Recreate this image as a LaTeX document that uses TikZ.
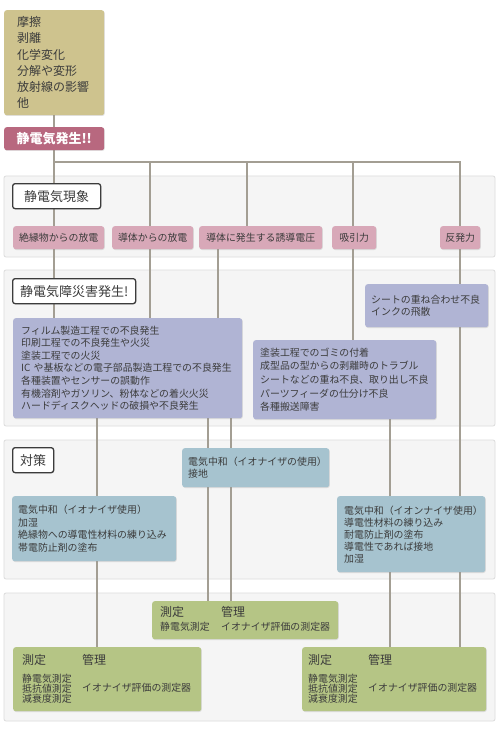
\documentclass[tikz,border=0pt]{standalone}
\usepackage{fontspec}
\setmainfont{Noto Sans CJK JP}
\usetikzlibrary{shadows}
\definecolor{causeTan}{HTML}{CEC38E}
\definecolor{alarmRed}{HTML}{B8687F}
\definecolor{phenPink}{HTML}{D8A8B8}
\definecolor{failBlue}{HTML}{B0B4D4}
\definecolor{cureBlue}{HTML}{A6C3CF}
\definecolor{checkGreen}{HTML}{B5C585}
\definecolor{wireGray}{HTML}{A39E93}
\definecolor{panelGray}{HTML}{F5F5F5}
\definecolor{panelEdge}{HTML}{DCDCDC}
\definecolor{inkGray}{HTML}{3C3C3C}
\pgfdeclarelayer{panel}
\pgfdeclarelayer{wire}
\pgfsetlayers{panel,wire,main}
\newcommand\bodyfont{\fontsize{9.9}{12.6}\selectfont}
\newcommand\checkhead{\fontsize{12}{14}\selectfont}
\newcommand\checklist[1]{\parbox[c]{58pt}{\fontsize{9.9}{10}\selectfont\lineskiplimit=-5pt #1}}

\begin{document}
\begin{tikzpicture}[x=1pt,y=-1pt,
  box/.style={anchor=north west,rounded corners=2.5pt,text=inkGray,inner ysep=0pt,
    drop shadow={shadow xshift=0.6pt,shadow yshift=-0.8pt,opacity=0.22}},
  card/.style={box,align=left,font=\bodyfont},
  head/.style={box,fill=white,draw=inkGray,line width=1.3pt,inner xsep=0pt,
    minimum height=25pt,font=\fontsize{13}{15}\selectfont},
  phen/.style={box,fill=phenPink,inner xsep=0pt,minimum height=23pt,font=\bodyfont},
  wire/.style={draw=wireGray,line width=1.8pt},
  panel/.style={fill=panelGray,draw=panelEdge,line width=0.8pt,rounded corners=2pt}]
  \useasboundingbox (0,0) rectangle (500,730);

  % causes and start
  \node[card,fill=causeTan,inner xsep=13pt,text width=74pt,minimum height=105pt,
    font=\fontsize{12}{16.2}\selectfont] (cause) at (4,10)
    {摩擦\\剥離\\化学変化\\分解や変形\\放射線の影響\\他};
  \node[box,fill=alarmRed,text=white,inner xsep=0pt,minimum width=100pt,minimum height=23pt,
    font=\fontsize{13}{15}\selectfont\bfseries] (hassei) at (4,127) {静電気発生!!};

  % phenomena
  \node[head,minimum width=88pt] (headA) at (12,183) {静電気現象};
  \foreach \n/\x/\w/\t in {zetsu/13/91/絶縁物からの放電,dotai/112/81/導体からの放電,
      yudo/199/123/導体に発生する誘導電圧,kyuin/332/44/吸引力,hanpatsu/440/40/反発力}
    \node[phen,minimum width=\w pt] (\n) at (\x,226) {\t};

  % failures
  \node[head,minimum width=123pt] (headB) at (12,278) {静電気障災害発生!};
  \node[card,fill=failBlue,inner xsep=8pt,text width=213pt,minimum height=100pt] (fail1) at (13,318)
    {フィルム製造工程での不良発生\\印刷工程での不良発生や火災\\塗装工程での火災\\IC や基板などの電子部品製造工程での不良発生\\各種装置やセンサーの誤動作\\有機溶剤やガソリン、粉体などの着火火災\\ハードディスクヘッドの破損や不良発生};
  \node[card,fill=failBlue,inner xsep=6pt,text width=111pt,minimum height=43pt] (fail2) at (365,284)
    {シートの重ね合わせ不良\\インクの飛散};
  \node[card,fill=failBlue,inner xsep=7pt,text width=169pt,minimum height=79pt,
    font=\fontsize{9.9}{13.6}\selectfont] (fail3) at (253,340)
    {塗装工程でのゴミの付着\\成型品の型からの剥離時のトラブル\\シートなどの重ね不良、取り出し不良\\パーツフィーダの仕分け不良\\各種搬送障害};

  % countermeasures
  \node[head,minimum width=41pt] (headC) at (12,447) {対策};
  \node[card,fill=cureBlue,inner xsep=6pt,text width=135pt,minimum height=39pt,
    font=\fontsize{9.9}{11.5}\selectfont] (cureC) at (182,448)
    {電気中和（イオナイザの使用）\\接地};
  \node[card,fill=cureBlue,inner xsep=6pt,text width=152pt,minimum height=65pt] (cureL) at (12,496)
    {電気中和（イオナイザ使用）\\加湿\\絶縁物への導電性材料の練り込み\\帯電防止剤の塗布};
  \node[card,fill=cureBlue,inner xsep=7pt,text width=134pt,minimum height=76pt,
    font=\fontsize{9.9}{12}\selectfont] (cureR) at (337,496)
    {電気中和（イオンナイザ使用）\\導電性材料の練り込み\\耐電防止剤の塗布\\導電性であれば接地\\加湿};

  % measurement and control
  \node[card,fill=checkGreen,inner xsep=8pt,text width=170pt,minimum height=38pt] (chkC) at (152,601)
    {\begin{tabular}{@{}p{61pt}@{}l@{}}{\checkhead 測定}&{\checkhead 管理}\\[1.6pt]
      静電気測定&イオナイザ評価の測定器\end{tabular}};
  \node[card,fill=checkGreen,inner xsep=9pt,text width=170pt,minimum height=64pt] (chkL) at (13,647)
    {\begin{tabular}{@{}p{60pt}@{}l@{}}{\checkhead 測定}&{\checkhead 管理}\\[5.7pt]
      \checklist{静電気測定\\抵抗値測定\\減衰度測定}&イオナイザ評価の測定器\end{tabular}};
  \node[card,fill=checkGreen,inner xsep=6pt,text width=172pt,minimum height=64pt] (chkR) at (302,647)
    {\begin{tabular}{@{}p{60pt}@{}l@{}}{\checkhead 測定}&{\checkhead 管理}\\[5.7pt]
      \checklist{静電気測定\\抵抗値測定\\減衰度測定}&イオナイザ評価の測定器\end{tabular}};

  \begin{pgfonlayer}{panel}
    \fill[white] (0,0) rectangle (500,730);
    \foreach \t/\b in {176/257,270/426,440/579,593/721}
      \draw[panel] (4,\t) rectangle (495,\b);
  \end{pgfonlayer}

  \begin{pgfonlayer}{wire}
    \coordinate (bus) at (460,162);
    \draw[wire] (cause) -- (hassei);
    \draw[wire] (hassei.south) -- (hassei.south |- fail1.north);
    \draw[wire] (hassei.south |- bus) -- (bus) -- (bus |- fail2.north);
    \foreach \x/\b in {150/fail1,247/yudo,353/fail3}
      \draw[wire] (\x,0 |- bus) -- (\x,0 |- \b.north);
    \foreach \x/\a/\b in {218/yudo/fail1,97/fail1/chkL,208/fail1/chkC,231/fail1/chkC,
        390/fail3/chkR,460/fail2/chkR}
      \draw[wire] (\x,0 |- \a.south) -- (\x,0 |- \b.north);
  \end{pgfonlayer}
\end{tikzpicture}
\end{document}
